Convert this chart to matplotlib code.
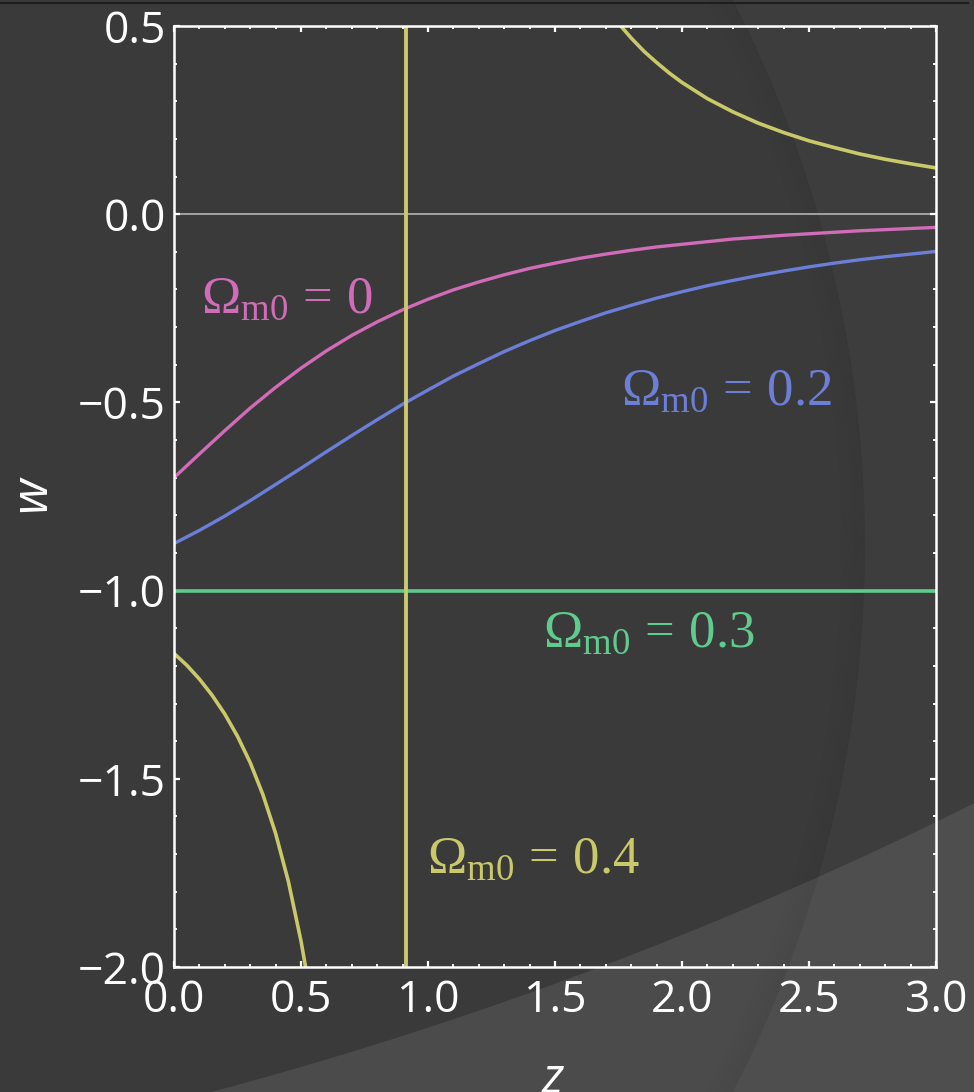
import matplotlib
matplotlib.use("Agg")
import matplotlib.pyplot as plt
import numpy as np
from matplotlib.patches import Circle, Polygon
from matplotlib.ticker import MultipleLocator

# values
z_grid = [0.0, 0.1, 0.2, 0.3, 0.4, 0.5, 0.6, 0.7, 0.8, 0.9, 1.0,
          1.1, 1.2, 1.3, 1.4, 1.5, 1.6, 1.7, 1.8, 1.9, 2.0,
          2.1, 2.2, 2.3, 2.4, 2.5, 2.6, 2.7, 2.8, 2.9, 3.0]
w_om00 = [-0.700, -0.637, -0.575, -0.515, -0.460, -0.409, -0.363, -0.322, -0.286, -0.254, -0.226,
          -0.201, -0.180, -0.161, -0.144, -0.130, -0.117, -0.106, -0.096, -0.087, -0.080,
          -0.073, -0.066, -0.061, -0.056, -0.052, -0.048, -0.044, -0.041, -0.038, -0.035]
w_om02 = [-0.875, -0.840, -0.802, -0.761, -0.718, -0.675, -0.631, -0.588, -0.546, -0.505, -0.467,
          -0.430, -0.397, -0.365, -0.336, -0.309, -0.285, -0.262, -0.242, -0.223, -0.206,
          -0.190, -0.176, -0.163, -0.151, -0.140, -0.130, -0.121, -0.113, -0.106, -0.099]
z_om03 = [0.0, 3.0]
w_om03 = [-1.0, -1.0]
z_om04_left = [0.0, 0.05, 0.1, 0.15, 0.2, 0.25, 0.3, 0.35, 0.4, 0.45, 0.5, 0.525, 0.55]
w_om04_left = [-1.167, -1.198, -1.235, -1.278, -1.328, -1.387, -1.457, -1.542, -1.645,
               -1.772, -1.931, -2.027, -2.137]
z_om04_right = [1.7, 1.75, 1.8, 1.85, 1.9, 1.95, 2.0, 2.1, 2.2, 2.3, 2.4, 2.5, 2.6, 2.7, 2.8, 2.9, 3.0]
w_om04_right = [0.552, 0.507, 0.468, 0.433, 0.403, 0.375, 0.350, 0.307, 0.272, 0.242,
                0.217, 0.195, 0.177, 0.160, 0.146, 0.134, 0.123]
z_pole = 0.913

labels = [r"$\Omega_{\mathrm{m0}}\,=\,0$", r"$\Omega_{\mathrm{m0}}\,=\,0.2$",
          r"$\Omega_{\mathrm{m0}}\,=\,0.3$", r"$\Omega_{\mathrm{m0}}\,=\,0.4$"]
label_pos = [(0.106, -0.262), (1.760, -0.507), (1.453, -1.150), (0.996, -1.750)]

pink = "#d06cb8"
blue = "#6c7fd8"
green = "#5fcb8c"
yellow = "#c9c96a"

plt.rcParams["mathtext.fontset"] = "custom"
plt.rcParams["mathtext.rm"] = "Liberation Serif"
plt.rcParams["mathtext.it"] = "Liberation Serif:italic"
plt.rcParams["font.family"] = ["Open Sans", "DejaVu Sans"]

fig = plt.figure(figsize=(9.74, 10.92), dpi=100)
fig.patch.set_facecolor("#3a3a3a")

# slide background, pixel coordinates
bg = fig.add_axes([0, 0, 1, 1], zorder=-5)
bg.set_xlim(0, 974)
bg.set_ylim(1092, 0)
bg.axis("off")

# lighter band at the bottom (outside a big circle)
t = np.linspace(0.2, 0.75, 200)
cx1, cy1, r1 = -827, -2803, 4031
arc1 = np.column_stack([cx1 + r1 * np.sin(t), cy1 + r1 * np.cos(t)])
bg.add_patch(Polygon(np.vstack([arc1, [[1200, 1300], [-100, 1300]]]),
                     closed=True, facecolor="#4b4b4b", edgecolor="none"))

# second arc: slightly lighter outside, soft shadow inside
cx2, cy2, r2 = -330, 546, 1195
ang = np.linspace(-0.6, 0.6, 200)
arc2 = np.column_stack([cx2 + r2 * np.cos(ang), cy2 + r2 * np.sin(ang)])
bg.add_patch(Polygon(np.vstack([arc2, [[1100, 1300], [1100, -200]]]),
                     closed=True, facecolor="white", alpha=0.02, edgecolor="none"))
for k in range(12):
    bg.add_patch(Circle((cx2, cy2), r2 - 1 - 2 * k, facecolor="none", edgecolor="black",
                        linewidth=1.6, alpha=0.035 * (12 - k) / 12))
bg.plot([0, 968], [2.5, 2.5], color="#1e1e1e", lw=1.5)

ax = fig.add_axes([174 / 974, 1 - 967 / 1092, 762 / 974, 941 / 1092])
ax.set_facecolor("none")

ax.axhline(0, color="#b4b4b4", lw=1.2, zorder=1)
ax.plot(z_grid, w_om00, color=pink, lw=2.4)
ax.plot(z_grid, w_om02, color=blue, lw=2.4)
ax.plot(z_om03, w_om03, color=green, lw=2.6)
ax.plot(z_om04_left, w_om04_left, color=yellow, lw=2.6)
ax.plot(z_om04_right, w_om04_right, color=yellow, lw=2.6)
ax.axvline(z_pole, color=yellow, lw=2.8)

for txt, (x, y), c in zip(labels, label_pos, [pink, blue, green, yellow]):
    ax.text(x, y, txt, color=c, fontsize=38, ha="left", va="baseline")

ax.set_xlim(0, 3)
ax.set_ylim(-2, 0.5)
ax.xaxis.set_major_locator(MultipleLocator(0.5))
ax.xaxis.set_minor_locator(MultipleLocator(0.1))
ax.yaxis.set_major_locator(MultipleLocator(0.5))
ax.yaxis.set_minor_locator(MultipleLocator(0.1))
fmt = plt.FuncFormatter(lambda v, p: f"{v:.1f}".replace("-", "\u2212"))
ax.xaxis.set_major_formatter(fmt)
ax.yaxis.set_major_formatter(fmt)

for s in ax.spines.values():
    s.set_color("white")
    s.set_linewidth(1.8)
ax.tick_params(which="both", direction="in", top=True, right=True, colors="white")
ax.tick_params(which="major", length=4, width=1.6, labelsize=32, labelcolor="white")
ax.tick_params(which="minor", length=2.5, width=1.3)
ax.tick_params(axis="x", which="major", pad=8)
ax.tick_params(axis="y", which="major", pad=6)

fig.text(32 / 974, 1 - 494 / 1092, "w", color="white", fontsize=36, style="italic",
         rotation=90, ha="center", va="center")
fig.text(553 / 974, 1 - 1080 / 1092, "z", color="white", fontsize=36, style="italic",
         ha="center", va="center")

fig.savefig("out.png", dpi=100, facecolor=fig.get_facecolor())
